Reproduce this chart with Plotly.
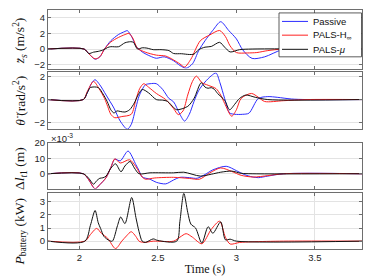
import plotly.graph_objects as go

# ---------------- data ----------------
# Panel 1: body vertical acceleration (m/s^2)
zs_passive_t = [1.8, 2.03, 2.06, 2.10, 2.13, 2.16, 2.20, 2.25, 2.29, 2.305, 2.335, 2.36, 2.40, 2.45, 2.49, 2.54, 2.60, 2.64, 2.68, 2.72, 2.76, 2.80, 2.85, 2.90, 2.95, 3.00, 3.04, 3.10, 3.18, 3.29, 3.4, 3.8]
zs_passive_v = [0, 0, -0.6, -1.3, -1.0, 0.0, 1.06, 1.87, 2.25, 2.36, 1.5, 0.4, -0.37, -0.9, -1.18, -1.0, -1.5, -2.1, -2.45, -1.9, -0.2, 1.06, 2.4, 3.5, 2.4, 1.3, -0.1, -1.2, -1.0, -0.1, 0, 0]
zs_hinf_t = [1.8, 2.03, 2.06, 2.10, 2.13, 2.16, 2.20, 2.25, 2.29, 2.316, 2.34, 2.37, 2.42, 2.49, 2.55, 2.60, 2.64, 2.67, 2.71, 2.77, 2.83, 2.893, 2.93, 2.96, 3.00, 3.07, 3.13, 3.20, 3.30, 3.8]
zs_hinf_v = [0, 0, -0.6, -1.26, -1.0, 0.0, 0.9, 1.5, 1.85, 2.0, 1.4, 0.1, -0.4, -0.78, -0.9, -1.4, -1.9, -2.3, -1.3, 1.06, 1.8, 2.37, 1.6, 0.4, -0.45, -0.5, -0.45, -0.2, 0, 0]
zs_mu_t = [1.8, 2.03, 2.06, 2.09, 2.12, 2.156, 2.18, 2.20, 2.25, 2.29, 2.327, 2.345, 2.37, 2.40, 2.43, 2.47, 2.52, 2.57, 2.60, 2.65, 2.70, 2.73, 2.76, 2.80, 2.84, 2.893, 2.925, 2.96, 3.02, 3.1, 3.8]
zs_mu_v = [0, 0, -0.57, -0.4, -0.3, -0.08, 0.2, 0.3, 0.3, 0.8, 0.94, 0.85, 0.0, 0.16, 0.12, -0.08, -0.08, -0.2, -0.57, -0.6, -0.7, -0.65, -0.08, 0.24, 0.33, 0.86, 0.24, -0.37, -0.08, 0.0, 0]

# Panel 2: pitch acceleration (rad/s^2)
th_passive_t = [1.8, 2.025, 2.05, 2.08, 2.10, 2.13, 2.17, 2.22, 2.26, 2.305, 2.33, 2.36, 2.38, 2.42, 2.45, 2.49, 2.53, 2.57, 2.60, 2.64, 2.67, 2.70, 2.73, 2.76, 2.80, 2.84, 2.87, 2.895, 2.925, 2.957, 2.99, 3.04, 3.08, 3.14, 3.20, 3.26, 3.35, 3.45, 3.8]
th_passive_v = [0, 0, 0.6, 1.5, 1.75, 1.3, 0.4, -0.75, -1.9, -2.62, -2.2, -0.7, 0.3, 1.3, 1.4, 1.4, 0.9, 0.1, -0.2, -1.3, -1.9, -1.3, -0.17, 0.8, 1.55, 2.1, 2.35, 1.5, 0.1, -1.18, -1.3, -1.3, -1.2, 0.1, 0.26, 0.2, 0.05, 0, 0]
th_hinf_t = [1.8, 2.025, 2.05, 2.09, 2.125, 2.16, 2.18, 2.20, 2.225, 2.27, 2.33, 2.36, 2.385, 2.41, 2.44, 2.49, 2.55, 2.60, 2.63, 2.66, 2.69, 2.72, 2.745, 2.78, 2.82, 2.87, 2.90, 2.925, 2.97, 3.00, 3.03, 3.096, 3.14, 3.18, 3.30, 3.45, 3.8]
th_hinf_v = [0, 0, 0.7, 1.6, 0.97, 0.1, -0.6, -1.3, -1.6, -1.5, -1.3, 0.0, 1.0, 1.4, 1.1, 0.54, 0.0, -0.8, -1.33, -1.0, 0.4, 1.6, 2.07, 1.5, 1.26, 0.97, 0.4, -0.34, -1.47, -0.9, 0.1, 0.54, 0.2, -0.17, -0.1, 0, 0]
th_mu_t = [1.8, 2.025, 2.05, 2.07, 2.12, 2.15, 2.177, 2.20, 2.22, 2.24, 2.26, 2.29, 2.32, 2.35, 2.37, 2.40, 2.44, 2.49, 2.53, 2.56, 2.60, 2.62, 2.69, 2.73, 2.776, 2.80, 2.82, 2.84, 2.86, 2.88, 2.925, 2.957, 2.99, 3.02, 3.06, 3.12, 3.20, 3.8]
th_mu_v = [0, 0, 0.6, 1.06, 1.06, 0.5, -0.17, -0.9, -1.18, -1.0, -1.05, -1.1, -0.9, -0.3, 0.3, 0.89, 0.6, 0.0, -0.05, -0.15, -0.7, -0.9, -0.6, 0.1, 1.49, 1.1, 1.0, 1.05, 0.9, 0.54, -0.06, -0.9, -0.4, 0.1, 0.4, 0.2, 0.0, 0]

# Panel 3: tyre deflection (x1e-3 m)
dl_passive_t = [1.8, 2.025, 2.06, 2.10, 2.13, 2.17, 2.20, 2.226, 2.26, 2.31, 2.36, 2.38, 2.40, 2.45, 2.49, 2.55, 2.60, 2.64, 2.70, 2.75, 2.80, 2.85, 2.935, 3.00, 3.05, 3.10, 3.14, 3.20, 3.30, 3.8]
dl_passive_v = [0, 0, -4, -9.8, -7, -2.5, 4, 9.4, 8.3, 14.6, 5.8, 2, -2.1, -3.5, -5.5, -6.5, -4, -2.3, -2.5, -2.9, -0.5, 2.5, 4.8, 2.0, -0.5, -2.0, -2.5, -1.5, 0, 0]
dl_hinf_t = [1.8, 2.025, 2.06, 2.10, 2.13, 2.17, 2.20, 2.226, 2.26, 2.32, 2.36, 2.40, 2.42, 2.48, 2.60, 2.70, 2.765, 2.83, 2.90, 2.97, 3.03, 3.107, 3.20, 3.30, 3.8]
dl_hinf_v = [0, 0, -4, -9.6, -7, -2.5, 4, 9.6, 6.9, 9.0, 4.5, -2.1, -3.5, -2.7, -2.3, -3.0, -3.5, 0.5, 3.75, 1.5, -1.0, -2.1, -1.2, 0, 0]
dl_mu_t = [1.8, 2.025, 2.06, 2.09, 2.11, 2.13, 2.15, 2.17, 2.20, 2.23, 2.265, 2.29, 2.323, 2.35, 2.38, 2.45, 2.60, 2.665, 2.77, 2.84, 2.90, 2.97, 3.03, 3.10, 3.8]
dl_mu_v = [0, 0, -3, -6.7, -4.5, -2.9, -2.6, -1.5, 3.5, 6.4, 1.3, 5.0, 7.9, 3.75, 0.0, 0.6, 0.6, 1.0, -1.5, -0.3, 1.0, 1.7, 0.3, 0, 0]

# Panel 4: battery power (kW)
pb_hinf_t = [1.8, 2.035, 2.07, 2.11, 2.14, 2.18, 2.23, 2.27, 2.30, 2.33, 2.36, 2.38, 2.41, 2.47, 2.60, 2.64, 2.68, 2.72, 2.78, 2.84, 2.893, 2.93, 2.96, 3.02, 3.10, 3.30, 3.8]
pb_hinf_v = [0, 0, 0.5, 0.97, 0.6, 0.22, -0.57, 0.0, 0.4, 0.72, 0.35, 0.0, -0.1, 0.0, 0.0, 0.3, 0.57, 0.3, -0.2, 0.9, 1.52, 0.3, -0.22, -0.1, -0.05, 0, 0]
pb_mu_t = [1.8, 2.035, 2.07, 2.10, 2.12, 2.135, 2.157, 2.19, 2.21, 2.243, 2.263, 2.29, 2.333, 2.36, 2.38, 2.40, 2.42, 2.47, 2.50, 2.62, 2.64, 2.665, 2.69, 2.71, 2.74, 2.78, 2.82, 2.85, 2.90, 2.93, 2.96, 3.00, 3.8]
pb_mu_v = [0, 0, 1.2, 2.34, 1.4, 0.97, 0.35, 0.05, 0.0, 1.2, 1.84, 1.34, 3.33, 1.8, 0.72, 0.0, -0.1, 0.17, 0.05, 0.0, 1.5, 3.65, 2.2, 1.3, 1.0, -0.15, 1.1, 0.6, 1.47, 0.1, 0.15, 0.0, 0]

x_ticks = [2, 2.5, 3, 3.5]
x_tick_labels = ["2", "2.5", "3", "3.5"]
series_names = ["Passive", "PALS-H<sub>∞</sub>", "PALS-<i>μ</i>"]
colors = ["#2b2bff", "#ff2020", "#111111"]

# ---------------- figure ----------------
fig = go.Figure()

panels = [
    ([(zs_passive_t, zs_passive_v), (zs_hinf_t, zs_hinf_v), (zs_mu_t, zs_mu_v)], [0, 1, 2]),
    ([(th_passive_t, th_passive_v), (th_hinf_t, th_hinf_v), (th_mu_t, th_mu_v)], [0, 1, 2]),
    ([(dl_passive_t, dl_passive_v), (dl_hinf_t, dl_hinf_v), (dl_mu_t, dl_mu_v)], [0, 1, 2]),
    ([(pb_hinf_t, pb_hinf_v), (pb_mu_t, pb_mu_v)], [1, 2]),
]

for pi, (data, idxs) in enumerate(panels):
    ax = "" if pi == 0 else str(pi + 1)
    for (t, v), si in zip(data, idxs):
        fig.add_trace(go.Scatter(
            x=t, y=v, mode="lines",
            line=dict(color=colors[si], width=1, shape="spline", smoothing=0.8),
            name=series_names[si], showlegend=False,
            xaxis="x" + ax, yaxis="y" + ax,
        ))

tick_font = dict(family="Liberation Sans, Arial, sans-serif", size=9.5, color="#262626")
frame = dict(showline=True, linecolor="#6e6e6e", linewidth=1, mirror="ticks",
             ticks="inside", ticklen=3, tickcolor="#6e6e6e", zeroline=False,
             tickfont=tick_font)

domains = [[0.755, 1.0], [0.502, 0.739], [0.253, 0.445], [0.0, 0.233]]
yranges = [[-2.5, 5], [-2.6, 2.4], [-9.5, 20], [-0.6, 3.65]]
yticks = [[-2, 0, 2, 4], [-2, 0, 2], [0, 10, 20], [0, 1, 2, 3]]

layout = dict(
    width=374, height=280,
    margin=dict(l=48, r=12, t=4, b=31),
    paper_bgcolor="white", plot_bgcolor="white",
    showlegend=False,
)

for pi in range(4):
    ax = "" if pi == 0 else str(pi + 1)
    xa = dict(frame, range=[1.8, 3.8], tickvals=x_ticks, ticktext=x_tick_labels, domain=[0, 1],
              showgrid=(pi == 3), gridcolor="#e3e3e3", gridwidth=1,
              showticklabels=(pi == 3), anchor="y" + ax)
    if pi > 0:
        xa["matches"] = "x"
    if pi == 3:
        xa["title"] = dict(text="Time (s)", font=dict(family="Liberation Serif, serif", size=12, color="#111"), standoff=2)
    ya = dict(frame, range=yranges[pi], tickvals=yticks[pi], domain=domains[pi],
              showgrid=True, gridcolor="#e3e3e3", gridwidth=1, anchor="x" + ax)
    layout["xaxis" + ax] = xa
    layout["yaxis" + ax] = ya

fig.update_layout(**layout)

def px_to_paper(xp, yp):
    return (xp - 48) / 314.0, (249 - yp) / 245.0

# y-axis labels
label_font = dict(family="Liberation Serif, DejaVu Serif, serif", size=13.5, color="#111")
ylabels = [
    ("<i>z̈</i><sub><i>s</i></sub> (m/s<sup>2</sup>)", 20, 36),
    ("<i>θ̈</i> (rad/s<sup>2</sup>)", 20, 97),
    ("Δ<i>l</i><sub><i>t</i>1</sub> (m)", 20, 167),
    ("<i>P</i><sub>battery</sub> (kW)", 20, 232),
]
for text, xp, yp in ylabels:
    xx, yy = px_to_paper(xp, yp)
    fig.add_annotation(text=text, xref="paper", yref="paper", x=xx, y=yy,
                       xanchor="center", yanchor="middle", textangle=-90,
                       showarrow=False, font=label_font)

xx, yy = px_to_paper(49, 135)
fig.add_annotation(text="×10<sup>-3</sup>", xref="paper", yref="paper", x=xx, y=yy,
                   xanchor="left", yanchor="middle", showarrow=False,
                   font=dict(family="Liberation Sans, Arial, sans-serif", size=9.5, color="#262626"))

# legend box (drawn in paper coordinates)
x0, y0 = px_to_paper(279, 7)
x1, y1 = px_to_paper(361.5, 52)
fig.add_shape(type="rect", xref="paper", yref="paper", x0=x0, y0=y1, x1=x1, y1=y0,
              fillcolor="white", line=dict(color="#333333", width=0.8), layer="above")
legend_rows = [15.7, 29.8, 44.3]
for si, yp in enumerate(legend_rows):
    lx0, ly = px_to_paper(282, yp)
    lx1, _ = px_to_paper(308, yp)
    fig.add_shape(type="line", xref="paper", yref="paper", x0=lx0, x1=lx1, y0=ly, y1=ly,
                  line=dict(color=colors[si], width=1), layer="above")
    tx, _ = px_to_paper(311, yp)
    fig.add_annotation(text=series_names[si], xref="paper", yref="paper", x=tx, y=ly,
                       xanchor="left", yanchor="middle", showarrow=False,
                       font=dict(family="Liberation Sans, Arial, sans-serif", size=9.5, color="#111"))

fig.write_html("out.html", config={"displayModeBar": False},
               post_script="document.body.style.margin='0';document.body.style.padding='0';")
